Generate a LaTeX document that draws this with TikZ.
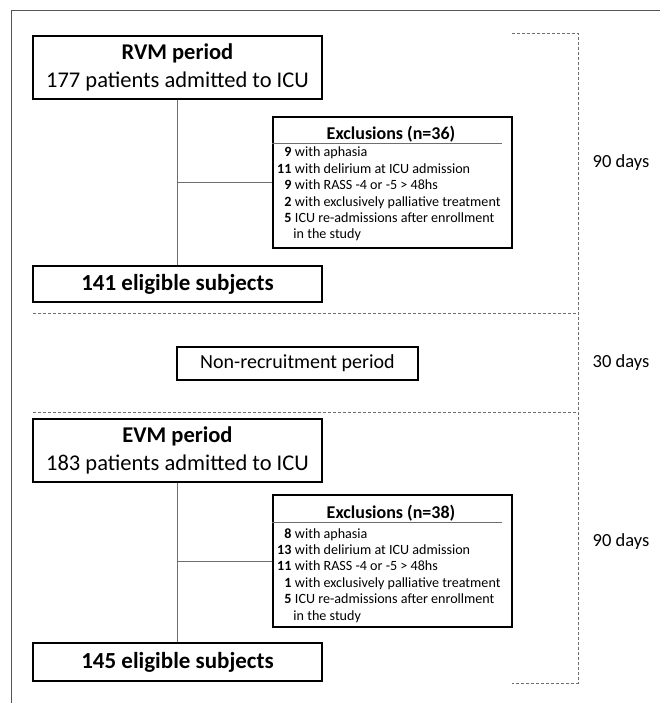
\documentclass[tikz,border=0pt]{standalone}
\usepackage{fontspec}
\setmainfont{Carlito}
\definecolor{Fgray}{RGB}{85,85,85}
\definecolor{Dgray}{RGB}{110,110,110}
\tikzset{
    mainbox/.style={
        rectangle, draw=black, line width=2pt, fill=white,
        minimum width=289pt, align=center, inner sep=0pt,
        font=\fontsize{22.5}{28}\selectfont
    },
    pausebox/.style={
        rectangle, draw=black, line width=2pt, fill=white,
        minimum width=241pt, minimum height=33pt, inner sep=0pt,
        font=\fontsize{20}{24}\selectfont
    },
    exclbox/.style={
        rectangle, draw=black, line width=2pt, fill=white,
        minimum width=239pt, minimum height=131pt, inner sep=0pt
    },
    exclhead/.style={
        anchor=base, inner sep=0pt, font=\fontsize{18}{20}\selectfont\bfseries
    },
    excllist/.style={
        anchor=base west, inner sep=0pt, align=left,
        font=\fontsize{14.1}{16.4}\selectfont
    },
    daylabel/.style={font=\fontsize{18.5}{22}\selectfont, inner sep=0pt},
    flowline/.style={line width=0.9pt, Dgray},
    splitline/.style={line width=0.9pt, Dgray, dash pattern=on 3pt off 2pt},
}
\newcommand{\exclrows}[5]{%
    \begin{tabular}[t]{@{}r@{\hspace{3.5pt}}l@{}}
        \textbf{#1} & with aphasia\\
        \textbf{#2} & with delirium at ICU admission\\
        \textbf{#3} & with RASS -4 or -5 > 48hs\\
        \textbf{#4} & with exclusively palliative treatment\\
        \textbf{#5} & ICU re-admissions after enrollment\\
                    & \hspace{-1.5pt}in the study
    \end{tabular}}

\begin{document}
\begin{tikzpicture}[x=1pt, y=-1pt]
    \useasboundingbox (0,0) rectangle (660,703);

    % frame
    \draw [Fgray, line width=1pt] (11,703) -- (11,11) -- (660,11);

    % first period
    \node [mainbox, minimum height=63pt] (rvm) at (177.5,67.5)
        {\textbf{RVM period}\\177 patients admitted to ICU};
    \node [mainbox, minimum height=36pt, font=\fontsize{23}{28}\selectfont\bfseries]
        (elig1) at (177.5,284) {141 eligible subjects};
    \node [exclbox] (ex1) at (392.5,182.5) {};
    \node [exclhead] (ex1head) at (391,139.5) {Exclusions (n=36)};
    \node [excllist] (ex1list) at (277,157) {\exclrows{9}{11}{9}{2}{5}};
    \draw [line width=0.9pt, Dgray] (ex1.west |- 0,143.5) -- (502,143.5);

    \draw [flowline] (rvm.south) -- (elig1.north);
    \draw [flowline] (rvm.south |- ex1.west) -- (ex1.west);

    % pause
    \draw [splitline] (33,313) -- (578,313);
    \node [pausebox] (pause) at (297.5,363.5) {Non-recruitment period};
    \draw [splitline] (33,412) -- (578,412);

    % second period
    \node [mainbox, minimum height=63pt] (evm) at (177.5,450.5)
        {\textbf{EVM period}\\183 patients admitted to ICU};
    \node [mainbox, minimum height=38pt, font=\fontsize{23}{28}\selectfont\bfseries]
        (elig2) at (177.5,662) {145 eligible subjects};
    \node [exclbox, minimum height=132pt] (ex2) at (392.5,561) {};
    \node [exclhead] (ex2head) at (391,518.5) {Exclusions (n=38)};
    \node [excllist] (ex2list) at (277,538) {\exclrows{8}{13}{11}{1}{5}};
    \draw [line width=0.9pt, Dgray] (ex2.west |- 0,522.5) -- (502,522.5);

    \draw [flowline] (evm.south) -- (elig2.north);
    \draw [flowline] (evm.south |- ex2.west) -- (ex2.west);

    % time bracket
    \draw [splitline] (512,33) -- (578,33) -- (578,683) -- (512,683);
    \node [daylabel] (days1) at (621,163) {90 days};
    \node [daylabel] (days0) at (621,363) {30 days};
    \node [daylabel] (days2) at (621,542) {90 days};
\end{tikzpicture}
\end{document}
